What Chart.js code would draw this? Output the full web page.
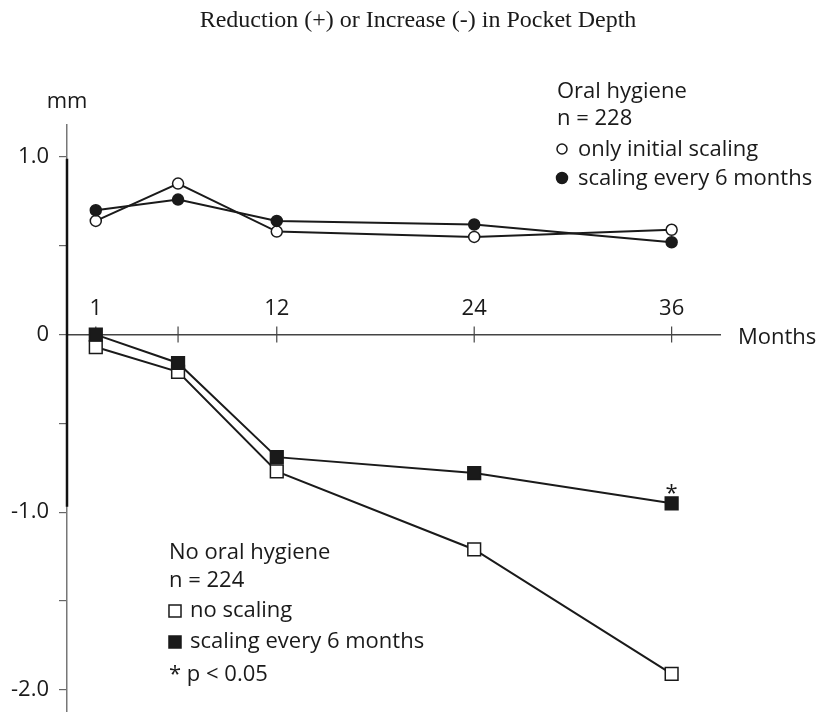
<!DOCTYPE html>
<html>
<head>
<meta charset="utf-8">
<title>Pocket Depth</title>
<script src="https://cdn.jsdelivr.net/npm/chart.js@4/dist/chart.umd.min.js"></script>
<style>
  html, body { margin: 0; padding: 0; background: #fff; }
  #chart { display: block; }
</style>
</head>
<body>
<canvas id="chart" width="817" height="712"></canvas>
<script>
// Reduction (+) or Increase (-) in pocket depth, mm, over 36 months

const months = [1, 6, 12, 24, 36];

// Oral hygiene, n = 228
const ohOnlyInitial = [0.64, 0.85, 0.58, 0.55, 0.59];
const ohEvery6 = [0.70, 0.76, 0.64, 0.62, 0.52];

// No oral hygiene, n = 224
const nohNoScaling = [-0.07, -0.21, -0.77, -1.21, -1.91];
const nohEvery6 = [0.00, -0.16, -0.69, -0.78, -0.95];

const xTickValues = [1, 6, 12, 24, 36];
const xTickLabels = ['1', '', '12', '24', '36'];
const yLabelled = [1, 0, -1, -2];

const INK = '#1a1a1a';
const SANS = '"Open Sans", "DejaVu Sans", sans-serif';

function pts(ys) {
    return months.map((m, i) => ({ x: m, y: ys[i] }));
}

function series(label, ys, style, filled, order) {
    return {
        label: label,
        data: pts(ys),
        borderColor: INK,
        borderWidth: 2,
        pointStyle: style,
        pointRadius: style === 'rect' ? 9 : 5.5,
        pointBorderWidth: 1.5,
        pointBorderColor: INK,
        pointBackgroundColor: filled ? INK : '#fff',
        tension: 0,
        order: order
    };
}

function drawMarker(ctx, style, filled, radius, x, y) {
    ctx.save();
    ctx.fillStyle = filled ? INK : '#fff';
    ctx.strokeStyle = INK;
    ctx.lineWidth = 1.5;
    Chart.helpers.drawPoint(ctx, { pointStyle: style, radius: radius, rotation: 0, borderWidth: 1.5 }, x, y);
    ctx.restore();
}

const decor = {
    id: 'decor',
    beforeDatasetsDraw(chart) {
        const { ctx, scales: { x, y } } = chart;
        const y0 = y.getPixelForValue(0);
        ctx.save();
        // darker part of the vertical axis
        ctx.strokeStyle = '#111';
        ctx.lineWidth = 2.5;
        ctx.beginPath();
        ctx.moveTo(x.left, y.getPixelForValue(0.99));
        ctx.lineTo(x.left, y.getPixelForValue(-0.97));
        ctx.stroke();
        // month ticks crossing the axis
        ctx.strokeStyle = '#444';
        ctx.lineWidth = 1.2;
        xTickValues.forEach(v => {
            const px = x.getPixelForValue(v);
            ctx.beginPath();
            ctx.moveTo(px, y0 - 8);
            ctx.lineTo(px, y0 + 8);
            ctx.stroke();
        });
        ctx.restore();
    },
    afterDatasetsDraw(chart) {
        // significance mark over the last filled square
        const { ctx } = chart;
        const p = chart.getDatasetMeta(3).data[4];
        ctx.save();
        ctx.fillStyle = INK;
        ctx.font = '22px ' + SANS;
        ctx.textAlign = 'center';
        ctx.textBaseline = 'alphabetic';
        ctx.fillText('*', p.x, p.y - 3);
        ctx.restore();
    },
    afterDraw(chart) {
        const { ctx, scales: { x, y } } = chart;
        ctx.save();
        ctx.fillStyle = INK;
        ctx.textBaseline = 'alphabetic';

        ctx.font = '24px "Liberation Serif", "Times New Roman", serif';
        ctx.textAlign = 'center';
        ctx.fillText('Reduction (+) or Increase (-) in Pocket Depth', 418, 27);

        ctx.font = '22px ' + SANS;
        ctx.fillText('mm', x.left, 108);
        xTickValues.forEach((v, i) => {
            if (xTickLabels[i]) ctx.fillText(xTickLabels[i], x.getPixelForValue(v), 315);
        });
        ctx.textAlign = 'left';
        ctx.fillText('Months', 738, y.getPixelForValue(0) + 9);

        // upper legend
        ctx.fillText('Oral hygiene', 557, 98);
        ctx.fillText('n = 228', 557, 125);
        ctx.fillText('only initial scaling', 578, 156);
        ctx.fillText('scaling every 6 months', 578, 185);
        drawMarker(ctx, 'circle', false, 5, 562, 149);
        drawMarker(ctx, 'circle', true, 5.5, 562, 178);

        // lower legend
        ctx.fillText('No oral hygiene', 169, 559);
        ctx.fillText('n = 224', 169, 587);
        ctx.fillText('no scaling', 190, 617);
        ctx.fillText('scaling every 6 months', 190, 648);
        ctx.fillText('* p < 0.05', 169, 681);
        drawMarker(ctx, 'rect', false, 8.5, 175, 611);
        drawMarker(ctx, 'rect', true, 8.5, 175, 642);
        ctx.restore();
    }
};

new Chart(document.getElementById('chart'), {
    type: 'line',
    data: {
        datasets: [
            series('only initial scaling', ohOnlyInitial, 'circle', false, 2),
            series('scaling every 6 months', ohEvery6, 'circle', true, 1),
            series('no scaling', nohNoScaling, 'rect', false, 2),
            series('scaling every 6 months', nohEvery6, 'rect', true, 1)
        ]
    },
    options: {
        responsive: false,
        animation: false,
        devicePixelRatio: 1,
        layout: { autoPadding: false, padding: { top: 125, right: 97, bottom: 0, left: 0 } },
        plugins: {
            legend: { display: false },
            title: { display: false },
            tooltip: { enabled: false }
        },
        scales: {
            x: {
                type: 'linear',
                position: { y: 0 },
                min: -0.75,
                max: 38.94,
                afterFit(scale) { scale.height = 0; },
                grid: { display: false, drawTicks: false },
                border: { display: true, color: '#444', width: 1.5 },
                ticks: { display: false }
            },
            y: {
                type: 'linear',
                position: 'left',
                min: -2.125,
                max: 1.18,
                afterFit(scale) {
                    scale.width = 67;
                    scale.paddingTop = 0;
                    scale.paddingBottom = 0;
                },
                grid: {
                    display: true,
                    drawOnChartArea: false,
                    drawTicks: true,
                    tickLength: 8,
                    color: '#666',
                    lineWidth: 1.2
                },
                border: { display: true, color: '#777', width: 1.5 },
                ticks: {
                    stepSize: 0.5,
                    includeBounds: false,
                    autoSkip: false,
                    padding: 10,
                    color: INK,
                    font: { family: SANS, size: 22 },
                    callback: (v) => yLabelled.includes(v) ? (v === 0 ? '0' : v.toFixed(1)) : ''
                }
            }
        }
    },
    plugins: [decor]
});
</script>
</body>
</html>
